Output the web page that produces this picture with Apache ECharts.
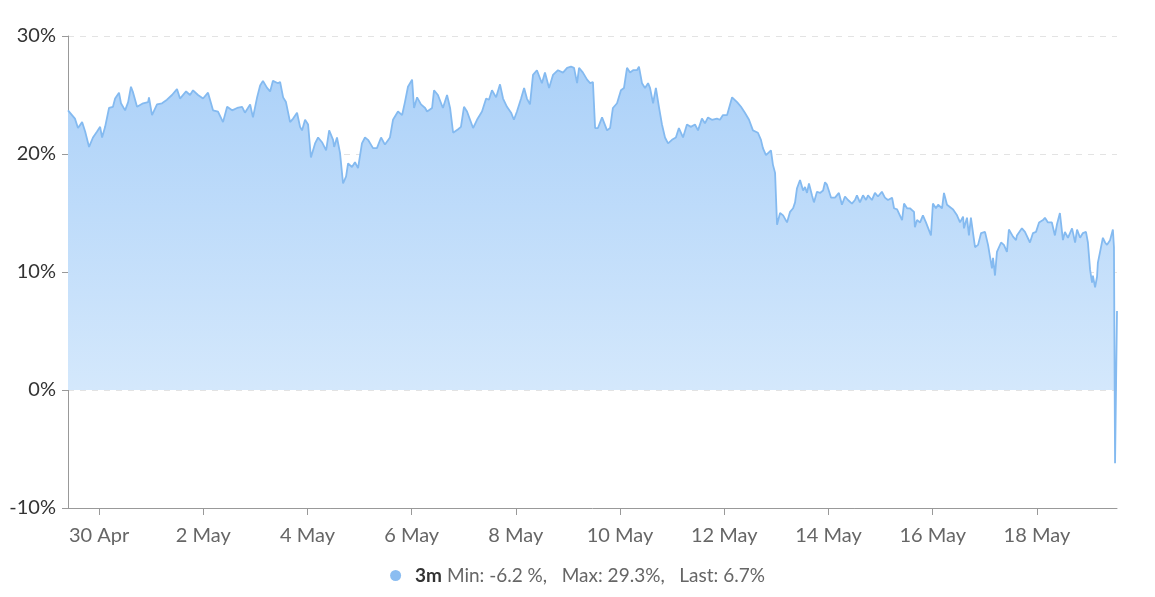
<!DOCTYPE html>
<html>
<head>
<meta charset="utf-8">
<script src="https://cdn.jsdelivr.net/npm/echarts@6/dist/echarts.min.js"></script>
<style>
html,body{margin:0;padding:0;background:#fff;}
#chart{width:1155px;height:597px;}
</style>
</head>
<body>
<div id="chart"></div>
<script>
// hours since 30 Apr 00:00
const hours = [
-14.3,-13.4,-11.1,-9.7,-7.8,-6.4,-4.6,-2.8,-0.9,0.5,1.4,2.8,4.6,6.4,7.4,9.2,10.1,12.0,13.4,14.7,15.7,17.5,20.3,22.6,23.0,24.4,26.7,29.0,31.3,33.6,35.9,37.3,40.1,41.9,43.3,45.6,47.9,50.2,52.5,54.8,57.1,59.0,61.3,63.6,
65.9,67.2,69.6,70.9,72.8,74.2,75.5,77.4,78.8,80.1,82.4,83.4,84.8,86.1,88.0,89.4,91.2,92.6,93.5,94.9,96.3,97.6,99.5,100.9,102.7,104.6,106.0,107.8,108.3,109.6,111.0,112.4,113.8,114.7,116.5,117.9,119.3,121.1,122.5,123.9,126.2,128.0,129.9,131.7,134.0,135.4,137.7,139.6,140.9,142.3,
144.2,145.1,146.5,148.3,150.2,151.1,153.4,154.3,156.1,158.4,160.3,161.7,163.1,165.4,166.7,168.1,169.5,170.4,172.3,174.1,176.4,178.3,179.6,181.0,182.9,184.7,186.1,187.9,189.8,191.1,192.5,194.4,195.8,197.1,198.5,199.9,201.7,204.0,205.4,207.3,209.1,211.4,213.7,215.6,217.4,218.8,220.2,221.1,222.9,224.8,226.2,227.5,
228.5,229.8,231.7,234.0,235.4,236.7,238.6,240.4,241.8,243.2,244.6,246.0,247.8,248.7,250.1,251.5,252.9,253.8,255.2,256.5,257.9,259.3,260.7,262.1,263.9,265.7,267.1,269.0,270.8,272.6,274.5,275.9,277.7,279.1,280.5,282.3,284.6,286.0,287.4,289.3,291.6,293.9,295.7,297.5,299.4,
301.2,303.5,304.9,305.8,307.2,309.5,310.4,311.4,312.3,313.7,315.1,316.9,318.3,319.7,320.6,321.5,322.9,324.3,325.2,326.1,327.0,328.4,329.3,330.7,332.1,333.5,334.4,335.3,337.2,339.0,340.8,342.2,343.6,345.0,346.8,348.2,349.1,350.5,351.9,353.3,354.2,356.0,357.4,358.8,360.6,362.0,363.4,365.3,366.2,367.6,369.9,370.8,372.2,
373.5,375.4,375.8,376.8,378.2,379.5,380.9,381.8,383.2,384.1,385.5,386.5,388.3,389.2,390.6,391.5,393.4,395.2,396.6,398.0,398.4,399.8,400.7,401.6,403.5,404.9,406.3,408.1,409.5,411.3,411.8,412.7,413.6,415.5,416.8,418.2,419.1,421.0,422.4,422.8,425.1,426.5,427.4,428.8,430.2,431.6,433.0,434.8,435.7,437.1,438.9,440.3,441.2,
442.6,444.0,444.9,446.3,448.2,449.6,450.5,451.9,453.2,454.6,455.5,456.5,457.4,457.8,458.8,459.7,460.1,461.1,462.4,463.4,464.3,465.7,467.0,467.5,468.0,468.9
];
const values3m = [
23.7,23.6,23.0,22.2,22.7,21.9,20.6,21.4,21.9,22.3,21.4,22.3,23.9,24.0,24.7,25.2,24.3,23.7,24.4,25.7,25.2,24.0,24.3,24.4,24.8,23.3,24.2,24.3,24.6,25.0,25.5,24.7,25.3,25.0,25.4,25.0,24.7,25.2,23.7,23.6,22.7,24.0,23.7,23.9,
24.0,23.5,24.2,23.1,24.8,25.8,26.2,25.6,25.3,26.2,26.0,26.1,24.8,24.4,22.7,23.0,23.5,22.3,22.0,22.9,22.5,19.7,20.9,21.4,21.0,20.3,22.0,21.2,20.6,21.4,20.1,17.5,18.1,19.2,18.9,19.3,18.8,20.9,21.4,21.2,20.5,20.5,21.4,20.8,21.4,22.9,23.6,23.3,24.4,25.7,
26.3,23.9,24.8,24.2,23.9,23.6,23.9,25.4,25.0,23.9,25.0,23.9,21.8,22.1,22.3,24.0,23.6,23.7,22.2,22.9,23.6,24.7,24.6,25.4,24.8,25.9,24.7,24.0,23.5,22.9,23.6,24.7,25.6,24.7,24.2,26.7,27.1,26.0,26.9,25.6,26.7,27.1,26.9,27.3,27.4,27.3,26.0,27.3,26.9,26.3,26.0,26.1,
22.2,22.2,23.1,22.0,22.2,23.9,24.3,25.4,25.6,27.3,26.9,27.1,27.1,27.4,26.0,25.6,26.0,25.6,24.3,25.6,24.0,22.5,21.4,20.9,21.2,21.4,22.2,21.4,22.5,22.3,22.5,22.0,23.0,22.6,23.1,22.9,23.0,22.9,23.3,23.3,24.8,24.4,24.0,23.5,22.9,
22.0,21.8,21.2,20.5,19.9,20.3,19.1,18.4,14.0,15.0,14.8,14.2,15.1,15.4,15.9,17.1,17.8,16.9,17.2,16.7,17.5,16.5,15.9,16.8,16.7,16.9,17.6,17.4,16.3,16.3,16.7,15.7,16.4,16.1,15.8,16.1,16.5,15.9,16.5,16.1,16.5,16.1,16.7,16.4,16.8,16.3,16.1,16.3,15.4,15.3,14.4,15.8,15.4,
15.4,15.1,13.8,14.4,14.2,14.8,14.2,14.2,13.1,15.8,15.4,15.7,15.4,16.7,15.7,15.7,15.3,14.8,14.2,14.7,13.7,14.6,13.1,14.6,12.1,12.3,13.3,13.4,12.3,10.3,11.2,9.7,11.7,12.5,12.3,11.7,13.6,13.0,12.7,13.1,13.7,13.4,13.4,12.5,13.3,13.4,14.2,14.4,14.6,14.2,14.2,13.1,14.0,
15.0,12.7,13.4,12.9,13.7,12.5,13.6,12.9,13.3,13.4,12.5,10.2,9.1,9.7,8.7,9.6,10.8,11.7,12.9,12.5,12.3,12.7,13.6,12.1,-6.2,6.7
];
const tickHours = [0,48,96,144,192,240,288,336,384,432];
const tickLabels = ['30 Apr','2 May','4 May','6 May','8 May','10 May','12 May','14 May','16 May','18 May'];
const yTicks = [-10,0,10,20,30];
const seriesName = '3m';
const legendText = {min:'-6.2 %', max:'29.3%', last:'6.7%'};

const data = hours.map((h,i)=>[h, values3m[i]]);

const chart = echarts.init(document.getElementById('chart'), null, {renderer:'canvas'});
chart.setOption({
  animation:false,
  textStyle:{fontFamily:'Lato'},
  grid:{left:68, right:38, top:36, bottom:89, containLabel:false},
  xAxis:{
    type:'value',
    min:hours[0], max:hours[hours.length-1],
    axisLine:{show:true, onZero:false, lineStyle:{color:'#999', width:1}},
    axisTick:{show:true, length:7, customValues:tickHours, lineStyle:{color:'#999'}},
    axisLabel:{customValues:tickHours, margin:18, color:'#666', fontSize:20, fontFamily:'Lato',
      formatter:(v)=>{const i=tickHours.indexOf(v); return i>=0?tickLabels[i]:'';}},
    splitLine:{show:false}
  },
  yAxis:{
    type:'value', min:yTicks[0], max:yTicks[yTicks.length-1], interval:10,
    axisLine:{show:true, onZero:false, lineStyle:{color:'#999', width:1}},
    axisTick:{show:true, length:6, lineStyle:{color:'#999'}},
    axisLabel:{color:'#333', fontSize:20, fontFamily:'Lato', margin:12, formatter:'{value}%'},
    splitLine:{show:true, lineStyle:{color:'#e3e3e3', type:[6,6], width:1}}
  },
  legend:{
    top:561, left:'center', icon:'circle', itemWidth:11, itemHeight:11, itemGap:10,
    data:[{name:seriesName, itemStyle:{color:'#8bbdf1'}}],
    formatter:(n)=>'{s|}{b|'+n+'} Min: '+legendText.min+',   Max: '+legendText.max+',   Last: '+legendText.last,
    textStyle:{color:'#666', fontSize:19, fontFamily:'Lato',
      rich:{s:{width:9}, b:{fontWeight:'bold', color:'#333', fontSize:19, fontFamily:'Lato'}}}
  },
  series:[{
    name:seriesName, type:'line', data:data, showSymbol:false, symbol:'none',
    lineStyle:{color:'#84baf0', width:1.8},
    itemStyle:{color:'#84baf0'},
    areaStyle:{origin:0, opacity:1, color:new echarts.graphic.LinearGradient(0,36,0,390,[
      {offset:0, color:'#a8cff8'},{offset:1, color:'#d4e8fc'}], true)},
    sampling:null
  }]
});
</script>
</body>
</html>
